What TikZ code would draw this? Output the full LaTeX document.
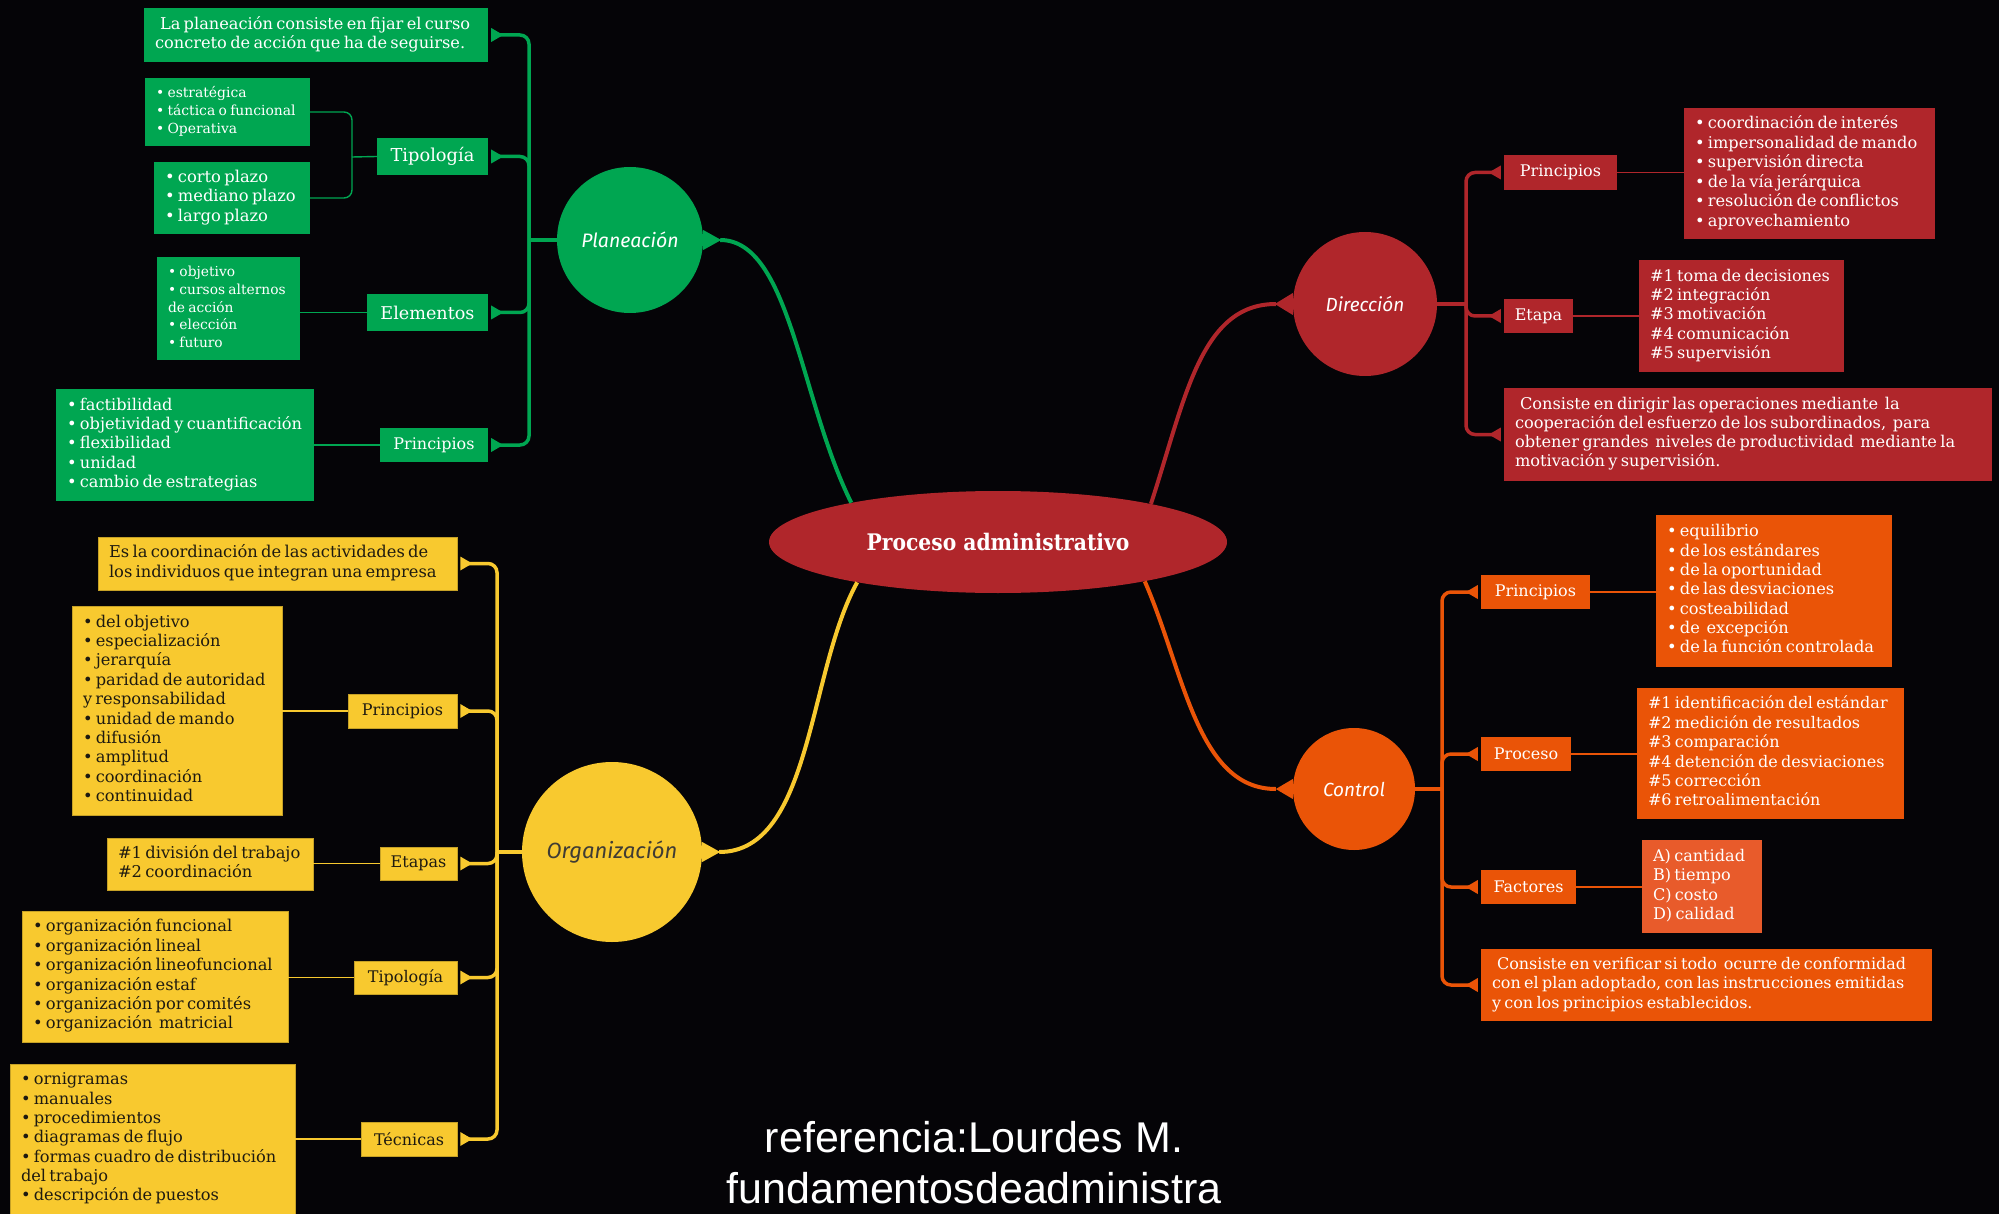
\documentclass[tikz,border=0pt]{standalone}
\usepackage{fontspec}
\setmainfont{DejaVu Serif}
\newfontfamily\fHand{Fira Sans}
\newfontfamily\fTitle{DejaVu Serif}[FakeStretch=0.89]
\newfontfamily\fRef{Liberation Sans}
\usetikzlibrary{shapes.geometric}
\definecolor{bg}{HTML}{050407}
\definecolor{gr}{HTML}{00A651}
\definecolor{rd}{HTML}{B0262B}
\definecolor{og}{HTML}{EA5407}
\definecolor{og2}{HTML}{E85B2B}
\definecolor{yl}{HTML}{F8C92F}
\definecolor{ytx}{HTML}{1E1A10}
\newcommand\fs[2]{\fontsize{#1}{#2}\selectfont}
\newcommand\cbx[8]{%
  \pgfmathsetmacro\bxw{#5-#3}%
  \pgfmathsetmacro\bxh{#6-#4}%
  \pgfmathsetmacro\bxtw{#5-#3-22}%
  \pgfmathsetmacro\bxcx{(#3+#5)/2}%
  \pgfmathsetmacro\bxcy{(#4+#6)/2}%
  \node[#2, minimum width=\bxw pt, minimum height=\bxh pt, text width=\bxtw pt,
        inner xsep=11pt, inner ysep=0pt, align=left] (#1) at (\bxcx,\bxcy)
        {#7\noindent\begin{tabular}{@{}l@{}}#8\end{tabular}};}
\newcommand\lbx[8]{%
  \pgfmathsetmacro\bxw{#5-#3}%
  \pgfmathsetmacro\bxh{#6-#4}%
  \pgfmathsetmacro\bxcx{(#3+#5)/2}%
  \pgfmathsetmacro\bxcy{(#4+#6)/2}%
  \node[#2, minimum width=\bxw pt, minimum height=\bxh pt, inner sep=0pt,
        align=center] (#1) at (\bxcx,\bxcy) {#7#8};}
% triangle: anchor, colour, half height, signed length
\newcommand\tri[4]{\fill[#2] (#1) ++(0,#3) -- ++(0,-2*#3) -- ++(#4,#3) -- cycle;}
\tikzset{
  gbox/.style={fill=gr, text=white},
  rbox/.style={fill=rd, text=white},
  obox/.style={fill=og, text=white},
  obox2/.style={fill=og2, text=white},
  ybox/.style={fill=yl, text=ytx, draw=yl!80!black, line width=0.5pt},
  brk/.style={line width=3.5pt, rounded corners=9pt},
  thin/.style={line width=1.4pt},
  main/.style={line width=4pt},
  circ/.style={circle, inner sep=0pt},
}
\begin{document}
\begin{tikzpicture}[x=1pt,y=-1pt]
\fill[bg] (0,0) rectangle (1999,1214);
\useasboundingbox (0,0) rectangle (1999,1214);

% ---------- centre ----------
\node[ellipse, fill=rd, minimum width=458pt, minimum height=102pt, inner sep=0pt,
      text=white] (cen) at (998,542) {\fTitle\bfseries\fs{22.8}{26}Proceso administrativo};

% ---------- circles ----------
\node[circ, fill=gr, minimum size=146pt, text=white] (pla) at (630,240)
  {\fHand\itshape\fs{19.5}{24}Planeación};
\node[circ, fill=yl, minimum size=180pt, text=ytx!85!white] (org) at (612,852)
  {\fHand\itshape\fs{22}{26}Organización};
\node[circ, fill=rd, minimum size=144pt, text=white] (dir) at (1365,304)
  {\fHand\itshape\fs{19}{24}Dirección};
\node[circ, fill=og, minimum size=122pt, text=white] (ctl) at (1354,789)
  {\fHand\itshape\fs{19}{24}Control};

% ---------- main curves ----------
\draw[main, gr] (cen.165) .. controls (800,400) and (790,240) .. ([xshift=17pt]pla.east);
\draw[main, rd] (cen.14) .. controls (1185,400) and (1200,304) .. ([xshift=-17pt]dir.west);
\draw[main, yl] (cen.196) .. controls (808,671) and (812,852) .. ([xshift=17pt]org.east);
\draw[main, og] (cen.345) .. controls (1184,671) and (1197,789) .. ([xshift=-17pt]ctl.west);
\tri{pla.east}{gr}{10}{18}
\tri{org.east}{yl}{10}{18}
\tri{dir.west}{rd}{11}{-18}
\tri{ctl.west}{og}{10}{-17}

% ---------- Planeacion (green) ----------
\cbx{pg0}{gbox}{144}{8}{488}{62}{\fs{16.2}{18.7}}{\hspace{5pt}La planeación consiste en fijar el curso\\concreto de acción que ha de seguirse.}
\lbx{pgT}{gbox}{377}{138}{488}{175}{\fs{17.8}{20}}{Tipología}
\cbx{pgT1}{gbox}{145}{78}{310}{146}{\fs{13.9}{17.7}}{• estratégica\\• táctica o funcional\\• Operativa}
\cbx{pgT2}{gbox}{154}{162}{310}{234}{\fs{16.3}{19.3}}{• corto plazo\\• mediano plazo\\• largo plazo}
\lbx{pgE}{gbox}{367}{294}{488}{331}{\fs{17.6}{20}}{Elementos}
\cbx{pgE1}{gbox}{157}{257}{300}{360}{\fs{13.8}{17.7}}{• objetivo\\• cursos alternos\\de acción\\• elección\\• futuro}
\lbx{pgP}{gbox}{380}{428}{488}{462}{\fs{16}{19}}{Principios}
\cbx{pgP1}{gbox}{56}{389}{314}{501}{\fs{16.2}{19.4}}{• factibilidad\\• objetividad y cuantificación\\• flexibilidad\\• unidad\\• cambio de estrategias}

\coordinate (gB) at (529,240);
\coordinate (gTj) at (352,157);
\foreach \c in {pg0,pgT,pgE,pgP} \draw[brk, gr] ([xshift=4pt]\c.east) -| (gB);
\draw[line width=3.5pt, gr] (gB) -- (pla.west);
\foreach \c in {pg0,pgT,pgE,pgP} {\tri{[xshift=3pt]\c.east}{gr}{7}{12}}
\draw[thin, gr, rounded corners=8pt] (pgT1.east) -| (gTj);
\draw[thin, gr, rounded corners=8pt] (pgT2.east) -| (gTj);
\draw[thin, gr] (gTj) -- (pgT.west);
\draw[thin, gr] (pgE.west) -- (pgE.west -| pgE1.east);
\draw[thin, gr] (pgP.west) -- (pgP.west -| pgP1.east);

% ---------- Organizacion (yellow) ----------
\cbx{py0}{ybox}{98}{537}{457}{590}{\fs{16.3}{19.5}}{Es la coordinación de las actividades de\\los individuos que integran una empresa}
\lbx{pyP}{ybox}{348}{694}{457}{728}{\fs{16}{19}}{Principios}
\cbx{pyP1}{ybox}{72}{606}{282}{815}{\fs{16.2}{19.4}}{• del objetivo\\• especialización\\• jerarquía\\• paridad de autoridad\\y responsabilidad\\• unidad de mando\\• difusión\\• amplitud\\• coordinación\\• continuidad}
\lbx{pyE}{ybox}{380}{847}{457}{880}{\fs{16}{19}}{Etapas}
\cbx{pyE1}{ybox}{107}{838}{313}{890}{\fs{16.3}{19.5}}{\#1 división del trabajo\\\#2 coordinación}
\lbx{pyT}{ybox}{354}{961}{457}{994}{\fs{16}{19}}{Tipología}
\cbx{pyT1}{ybox}{22}{911}{288}{1042}{\fs{16.3}{19.4}}{• organización funcional\\• organización lineal\\• organización lineofuncional\\• organización estaf\\• organización por comités\\• organización~ matricial}
\lbx{pyC}{ybox}{361}{1122}{457}{1156}{\fs{16}{19}}{Técnicas}
\cbx{pyC1}{ybox}{10}{1064}{295}{1214}{\fs{16.2}{19.3}}{• ornigramas\\• manuales\\• procedimientos\\• diagramas de flujo\\• formas cuadro de distribución\\del trabajo\\• descripción de puestos}

\coordinate (yB) at (497,852);
\foreach \c in {py0,pyP,pyE,pyT,pyC} \draw[brk, yl] ([xshift=4pt]\c.east) -| (yB);
\draw[line width=3.5pt, yl] (yB) -- (org.west);
\foreach \c in {py0,pyP,pyE,pyT,pyC} {\tri{[xshift=3pt]\c.east}{yl}{7}{12}}
\foreach \l/\b in {pyP/pyP1,pyE/pyE1,pyT/pyT1,pyC/pyC1} \draw[thin, yl] (\l.west) -- (\l.west -| \b.east);

% ---------- Direccion (red) ----------
\lbx{prP}{rbox}{1504}{155}{1617}{190}{\fs{16}{19}}{Principios}
\cbx{prP1}{rbox}{1684}{108}{1935}{239}{\fs{16.2}{19.5}}{• coordinación de interés\\• impersonalidad de mando\\• supervisión directa\\• de la vía jerárquica\\• resolución de conflictos\\• aprovechamiento}
\lbx{prE}{rbox}{1504}{299}{1573}{333}{\fs{16}{19}}{Etapa}
\cbx{prE1}{rbox}{1639}{260}{1844}{372}{\fs{16.1}{19.4}}{\#1 toma de decisiones\\\#2 integración\\\#3 motivación\\\#4 comunicación\\\#5 supervisión}
\cbx{prC}{rbox}{1504}{388}{1992}{481}{\fs{16.2}{19.1}}{\hspace{5pt}Consiste en dirigir las operaciones mediante~ la\\cooperación del esfuerzo de los subordinados,~ para\\obtener grandes~ niveles de productividad~ mediante la\\motivación y supervisión.}

\coordinate (rB) at (1466,304);
\foreach \c in {prP,prE,prC} \draw[brk, rd] ([xshift=-4pt]\c.west) -| (rB);
\draw[line width=3.5pt, rd] (rB) -- (dir.east);
\foreach \c in {prP,prE,prC} {\tri{[xshift=-3pt]\c.west}{rd}{7}{-12}}
\foreach \l/\b in {prP/prP1,prE/prE1} \draw[thin, rd] (\l.east) -- (\l.east -| \b.west);

% ---------- Control (orange) ----------
\lbx{poP}{obox}{1481}{575}{1590}{609}{\fs{16}{19}}{Principios}
\cbx{poP1}{obox}{1656}{515}{1892}{667}{\fs{16.2}{19.35}}{• equilibrio\\• de los estándares\\• de la oportunidad\\• de las desviaciones\\• costeabilidad\\• de~ excepción\\• de la función controlada}
\lbx{poR}{obox}{1481}{737}{1571}{771}{\fs{16}{19}}{Proceso}
\cbx{poR1}{obox}{1637}{688}{1904}{819}{\fs{16}{19.4}}{\#1 identificación del estándar\\\#2 medición de resultados\\\#3 comparación\\\#4 detención de desviaciones\\\#5 corrección\\\#6 retroalimentación}
\lbx{poF}{obox}{1481}{870}{1576}{904}{\fs{16}{19}}{Factores}
\cbx{poF1}{obox2}{1642}{840}{1762}{933}{\fs{16.1}{19.4}}{A) cantidad\\B) tiempo\\C) costo\\D) calidad}
\cbx{poC}{obox}{1481}{949}{1932}{1021}{\fs{16}{19.4}}{\hspace{5pt}Consiste en verificar si todo~ ocurre de conformidad\\con el plan adoptado, con las instrucciones emitidas\\y con los principios establecidos.}

\coordinate (oB) at (1442,789);
\foreach \c in {poP,poR,poF,poC} \draw[brk, og] ([xshift=-4pt]\c.west) -| (oB);
\draw[line width=3.5pt, og] (oB) -- (ctl.east);
\foreach \c in {poP,poR,poF,poC} {\tri{[xshift=-3pt]\c.west}{og}{7}{-12}}
\foreach \l/\b in {poP/poP1,poR/poR1,poF/poF1} \draw[thin, og] (\l.east) -- (\l.east -| \b.west);

% ---------- reference text ----------
\node[text=white, align=center, inner sep=0pt, font={\fRef\fs{43}{51}}] (ref) at (974,1163)
  {referencia:Lourdes M.\\fundamentosdeadministra};
\end{tikzpicture}
\end{document}
